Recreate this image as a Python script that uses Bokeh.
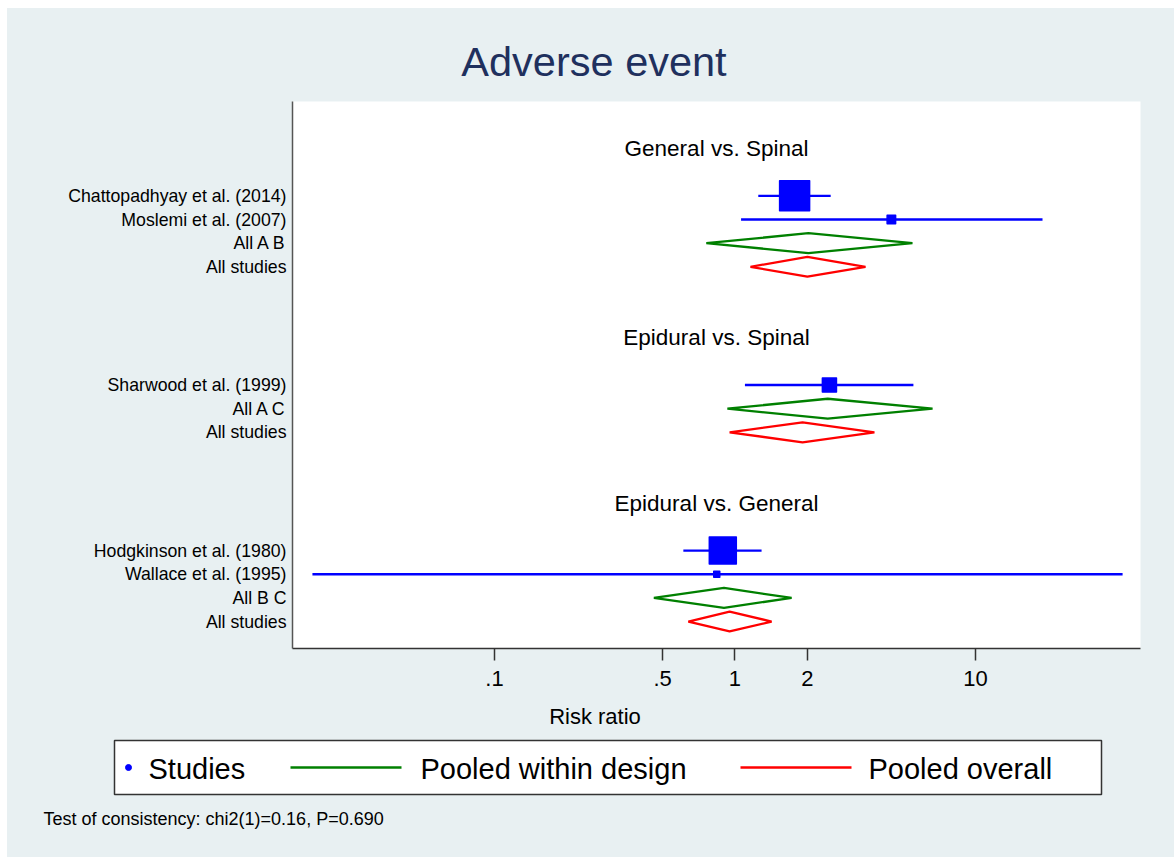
import math
from bokeh.plotting import figure
from bokeh.models import Range1d, FixedTicker, CustomJSTickFormatter, ColumnDataSource
from bokeh.core.properties import value
from bokeh.embed import file_html
from bokeh.resources import INLINE

# ---------------- data ----------------
title_text = "Adverse event"
x_label = "Risk ratio"
note_text = "Test of consistency: chi2(1)=0.16, P=0.690"

groups = ["General vs. Spinal", "Epidural vs. Spinal", "Epidural vs. General"]
pooled_labels = ["All A B", "All A C", "All B C"]
overall_label = "All studies"

study_names = ["Chattopadhyay et al. (2014)", "Moslemi et al. (2007)",
               "Sharwood et al. (1999)",
               "Hodgkinson et al. (1980)", "Wallace et al. (1995)"]
study_group = [0, 0, 1, 2, 2]
study_rr = [1.77, 4.47, 2.47, 0.89, 0.84]
study_lo = [1.25, 1.06, 1.10, 0.61, 0.0175]
study_hi = [2.50, 19.0, 5.52, 1.29, 40.9]
study_weight = [100, 8, 22, 81, 4]        # relative weights (marker area)

within_rr = [2.02, 2.43, 0.90]
within_lo = [0.76, 0.93, 0.46]
within_hi = [5.47, 6.63, 1.72]

overall_rr = [2.00, 1.91, 0.95]
overall_lo = [1.16, 0.95, 0.64]
overall_hi = [3.49, 3.80, 1.42]

tick_values = [0.1, 0.5, 1, 2, 10]
tick_labels = [".1", ".5", "1", "2", "10"]

legend_labels = ["Studies", "Pooled within design", "Pooled overall"]

# ---------------- styles ----------------
BG = "#e8f0f2"
BLUE = "#0000ff"
GREEN = "#008000"
RED = "#ff0000"
NAVY = "#1f305e"
FONT = "Liberation Sans"

# ---------------- row layout ----------------
heading_rows = []
within_rows, overall_rows = [None] * 3, [None] * 3
study_rows = [None] * len(study_names)
row = 0
for g in range(len(groups)):
    heading_rows.append(row)
    row += 2
    for i, sg in enumerate(study_group):
        if sg == g:
            study_rows[i] = row
            row += 1
    within_rows[g] = row
    row += 1
    overall_rows[g] = row
    row += 3

# page geometry (pixels)
PX0, PY0 = 7, 8            # top-left of the graph region
W = 1167                   # graph region width
TOP_H = 93                 # title strip
MAIN_H = 599               # plot strip (frame + x axis)
BOT_H = 157                # axis title, legend, note
FL, FR = 292, 1140         # frame left/right on page
FB_OFF = 547               # frame height
XMIN, XMAX = 0.01446, 48.55
YTOP, YBOT = -1.99, 21.14

ELEM_STYLE = {"background-color": BG}


def strip(height, y0, margin_top):
    f = figure(width=W, height=height, x_range=Range1d(PX0, PX0 + W),
               y_range=Range1d(y0 + height, y0), output_backend="svg",
               toolbar_location=None, x_axis_location=None, y_axis_location=None,
               min_border=0, outline_line_color=None, background_fill_color=BG,
               border_fill_color=BG, margin=(margin_top, 0, 0, PX0),
               styles=ELEM_STYLE)
    f.xgrid.visible = False
    f.ygrid.visible = False
    return f


# ---------------- title strip ----------------
pt = strip(TOP_H, PY0, PY0)
pt.text(x=[593.5], y=[61], text=[title_text], text_align="center",
        text_baseline="middle", text_font=value(FONT), text_font_size="41.5px",
        text_color=NAVY)

# ---------------- main plot ----------------
p = figure(width=W, height=MAIN_H, x_axis_type="log",
           x_range=Range1d(XMIN, XMAX), y_range=Range1d(YBOT, YTOP),
           output_backend="svg", toolbar_location=None,
           min_border_left=FL - PX0, min_border_right=PX0 + W - FR,
           min_border_top=0, min_border_bottom=MAIN_H - FB_OFF,
           border_fill_color=BG, background_fill_color="white",
           outline_line_color=None, margin=(0, 0, 0, PX0), styles=ELEM_STYLE)
p.xgrid.visible = False
p.ygrid.visible = False

HALF = 0.42


def diamond(lo, est, hi, y):
    return [lo, est, hi, est], [y, y - HALF, y, y + HALF]


wx, wy, ox, oy = [], [], [], []
for g in range(len(groups)):
    a, b = diamond(within_lo[g], within_rr[g], within_hi[g], within_rows[g])
    wx.append(a); wy.append(b)
    a, b = diamond(overall_lo[g], overall_rr[g], overall_hi[g], overall_rows[g])
    ox.append(a); oy.append(b)

p.patches(wx, wy, fill_color=None, line_color=GREEN, line_width=2.3)
p.patches(ox, oy, fill_color=None, line_color=RED, line_width=2.3)

src = ColumnDataSource(dict(
    rr=study_rr, lo=study_lo, hi=study_hi, y=study_rows,
    size=[3.0 * math.sqrt(w) for w in study_weight]))
p.segment(x0="lo", x1="hi", y0="y", y1="y", source=src, line_color=BLUE, line_width=2.4)
p.scatter(x="rr", y="y", size="size", marker="square", source=src,
          fill_color=BLUE, line_color=BLUE, line_join="round", line_width=1.5)

center_x = math.sqrt(XMIN * XMAX)
p.text(x=[center_x] * len(groups), y=heading_rows, text=groups,
       text_align="center", text_baseline="middle",
       text_font=value(FONT), text_font_size="22.5px", text_color="black")

ax = p.xaxis[0]
ax.ticker = FixedTicker(ticks=tick_values, minor_ticks=[])
ax.formatter = CustomJSTickFormatter(args=dict(vals=tick_values, labs=tick_labels), code="""
for (let i = 0; i < vals.length; i++) { if (Math.abs(vals[i] - tick) < 1e-9) return labs[i]; }
return '';""")
ax.axis_line_color = "#333333"
ax.axis_line_width = 1.5
ax.major_tick_out = 12
ax.major_tick_in = 0
ax.major_tick_line_color = "#333333"
ax.major_tick_line_width = 1.5
ax.minor_tick_line_color = None
ax.major_label_standoff = 10
ax.major_label_text_font = FONT
ax.major_label_text_font_size = "22px"
ax.major_label_text_color = "black"

label_rows, label_texts = [], []
for i, r in enumerate(study_rows):
    label_rows.append(r); label_texts.append(study_names[i])
for g in range(len(groups)):
    label_rows += [within_rows[g], overall_rows[g]]
    label_texts += [pooled_labels[g], overall_label]

ay = p.yaxis[0]
ay.ticker = FixedTicker(ticks=label_rows, minor_ticks=[])
ay.major_label_overrides = {r: t for r, t in zip(label_rows, label_texts)}
ay.axis_line_color = "#555555"
ay.axis_line_width = 1.5
ay.major_tick_line_color = None
ay.minor_tick_line_color = None
ay.major_tick_out = 0
ay.major_tick_in = 0
ay.major_label_standoff = 6
ay.major_label_text_font = FONT
ay.major_label_text_font_size = "17.7px"
ay.major_label_text_color = "black"

# ---------------- bottom strip: axis title, legend, note ----------------
pb = strip(BOT_H, PY0 + TOP_H + MAIN_H, 0)

pb.text(x=[594.5], y=[715.5], text=[x_label], text_align="center",
        text_baseline="middle", text_font=value(FONT), text_font_size="22px",
        text_color="black")

# legend box
pb.quad(left=[114], right=[1101], top=[740], bottom=[794], fill_color="white",
        line_color="#333333", line_width=1.5)
pb.scatter(x=[128], y=[767], marker="circle", size=6, fill_color=BLUE, line_color=BLUE)
pb.segment(x0=[290, 740], x1=[401, 851], y0=[767, 767], y1=[767, 767],
           line_color=[GREEN, RED], line_width=2.5)
pb.text(x=[148, 420, 868], y=[768, 768, 768], text=legend_labels, text_align="left",
        text_baseline="middle", text_font=value(FONT), text_font_size="29px",
        text_color="black")

pb.text(x=[43], y=[818.5], text=[note_text], text_align="left",
        text_baseline="middle", text_font=value(FONT), text_font_size="18px",
        text_color="black")

open("out.html", "w").write(file_html([pt, p, pb], INLINE))
